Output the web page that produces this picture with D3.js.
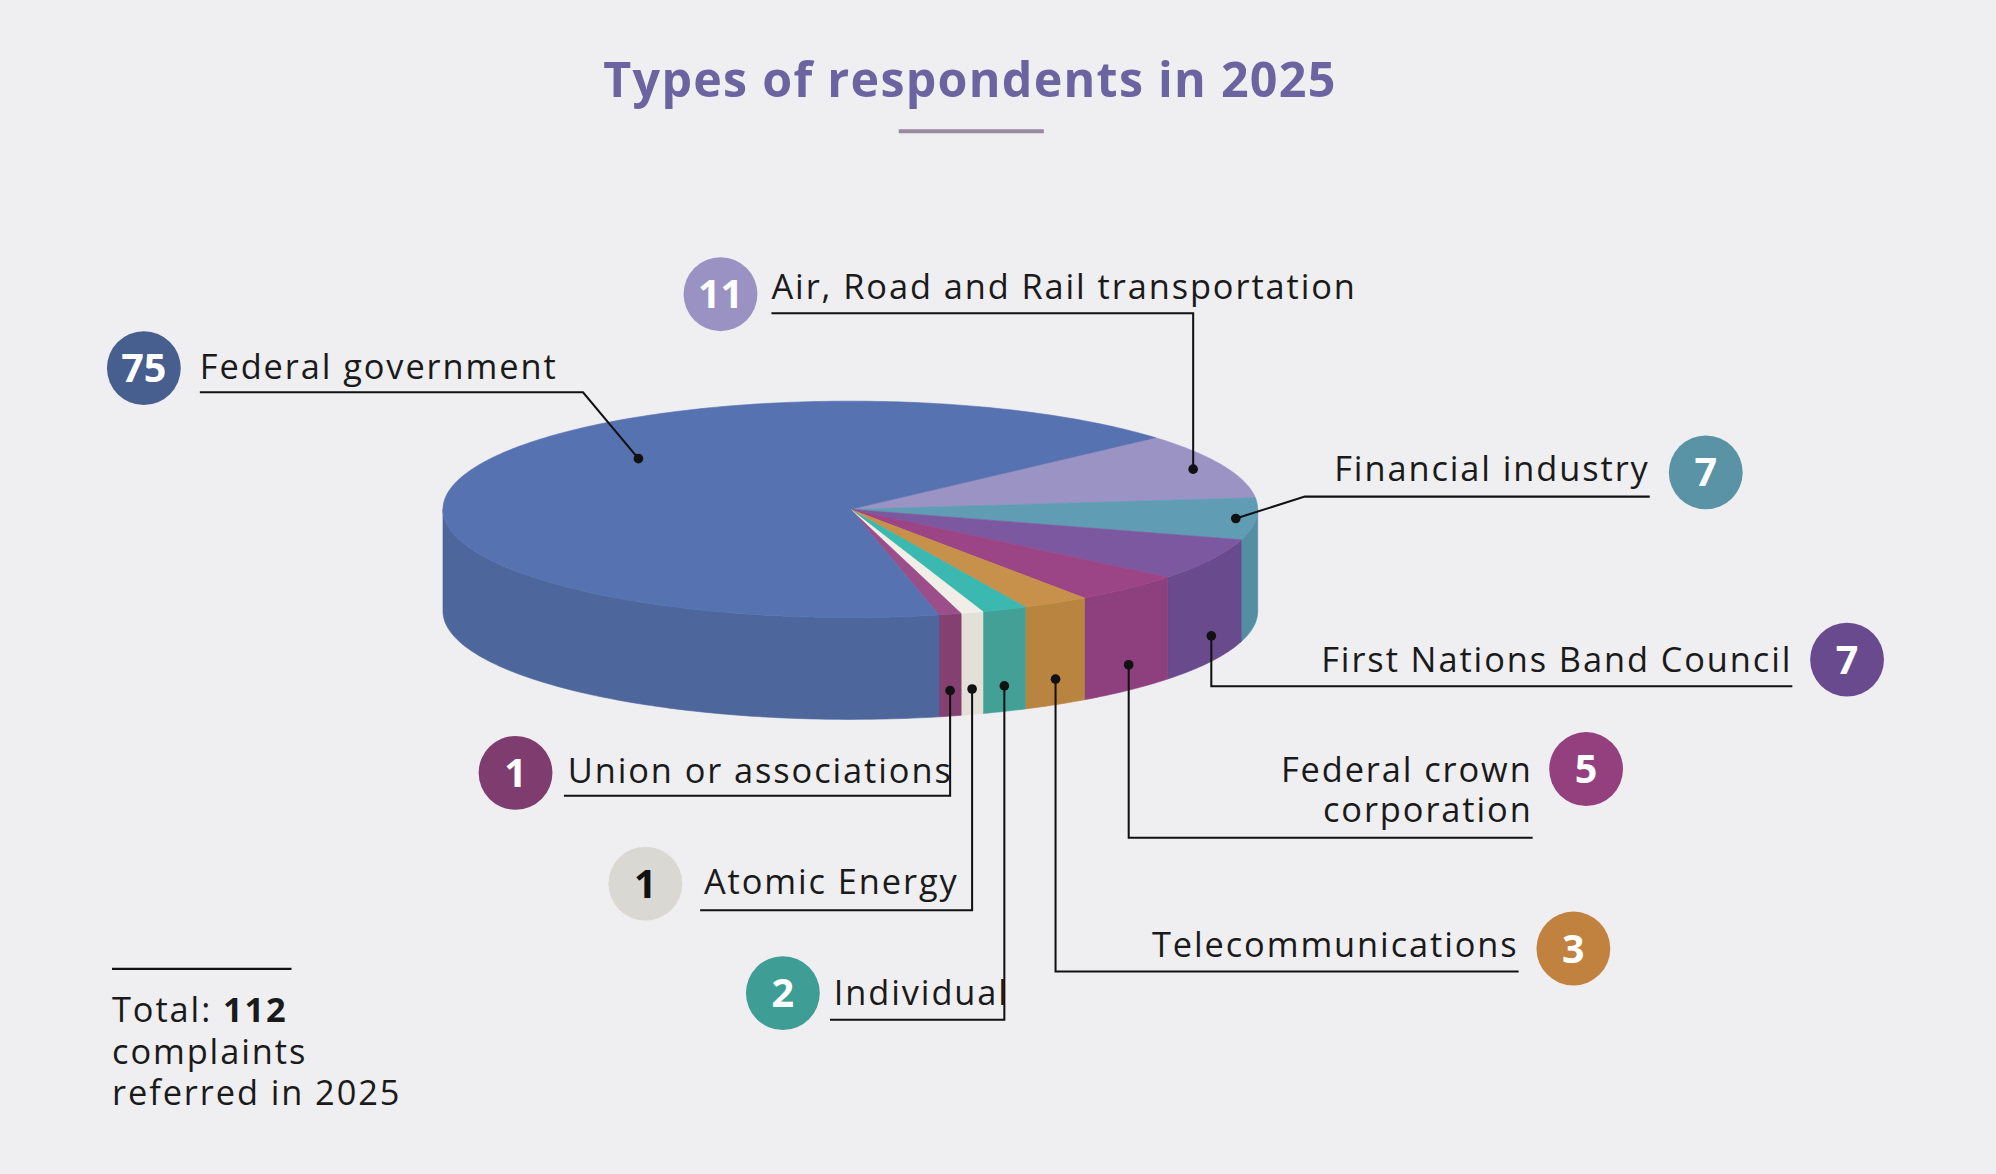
<!DOCTYPE html>
<html><head><meta charset="utf-8">
<script src="https://cdn.jsdelivr.net/npm/d3@7"></script>
<style>body{margin:0;background:#efeef1;}svg{display:block;}</style>
</head><body>
<svg id="chart" width="1996" height="1174" viewBox="0 0 1568 922"></svg>
<script>
// data, in drawing order (clockwise from the top right)
var categories = ["Air, Road and Rail transportation","Financial industry","First Nations Band Council","Federal crown corporation","Telecommunications","Individual","Atomic Energy","Union or associations","Federal government"];
var values = [11,7,7,5,3,2,1,1,75];
var totalLabel = 112;

var topColors  = ["#9a93c3","#609db4","#7b589f","#9b4486","#c8914b","#3bb8b0","#f1eee8","#9b4e8a","#5672b0"];
var sideColors = ["#8c84b5","#548ea3","#694a8d","#8e3f7e","#b9843f","#43a097","#e4e0d8","#844070","#4d679c"];
var badgeColors= ["#9b92c4","#5b93a6","#6a4a8e","#94407f","#c0823e","#3e9d94","#d9d8d2","#7f3c6f","#475f8f"];

var svg = d3.select("#chart");
var cx = 668, cy = 400, rx = 320, ry = 85, depth = 80;
var font = "'Open Sans', sans-serif";
var ls = 1.5;

var total = d3.sum(values);
var t0 = 318.5*Math.PI/180;
var angle = d3.scaleLinear().domain([0,total]).range([t0, t0+2*Math.PI]);
var cum = d3.cumsum(values);
var slices = values.map(function(v,i){
  return {i:i, a0: angle(cum[i]-v), a1: angle(cum[i])};
});

function pt(t, f, dy){ return [cx+rx*f*Math.cos(t), cy+ry*f*Math.sin(t)+(dy||0)]; }
function arcPts(a0,a1,dy){
  var n = Math.max(4, Math.ceil((a1-a0)*60)), out=[];
  for(var k=0;k<=n;k++){ out.push(pt(a0+(a1-a0)*k/n,1,dy)); }
  return out;
}
var line = d3.line();

// side walls: visible where sin(t) > 0
var sides = [];
slices.forEach(function(s){
  [0, 2*Math.PI, 4*Math.PI].forEach(function(off){
    var lo = Math.max(s.a0, off), hi = Math.min(s.a1, off+Math.PI);
    if(hi>lo) sides.push({i:s.i, lo:lo, hi:hi});
  });
});
svg.selectAll("path.side").data(sides).enter().append("path")
  .attr("class","side")
  .attr("d", function(d){
    var p = arcPts(d.lo,d.hi,0).concat(arcPts(d.lo,d.hi,depth).reverse());
    return line(p)+"Z";
  })
  .attr("fill", function(d){ return sideColors[d.i]; })
  .attr("stroke", function(d){ return sideColors[d.i]; }).attr("stroke-width",0.5);

svg.selectAll("path.top").data(slices).enter().append("path")
  .attr("class","top")
  .attr("d", function(d){ return line([[cx,cy]].concat(arcPts(d.a0,d.a1,0)))+"Z"; })
  .attr("fill", function(d){ return topColors[d.i]; })
  .attr("stroke", function(d){ return topColors[d.i]; }).attr("stroke-width",0.5);

// label layout (positions only)
var layout = [
  {badge:[566,231], text:[606,235], anchor:"start", ux:[606,929], uy:246, f:0.92, side:false},
  {badge:[1340,371], text:[1296,378], anchor:"end", ux:[1025,1296], uy:390, f:0.95, side:false},
  {badge:[1451,518], text:[1408,528], anchor:"end", ux:[963,1408], uy:539, side:true},
  {badge:[1246,604], text:[1204,614], anchor:"end", ux:[909,1204], uy:658, side:true, lines:["Federal crown","corporation"]},
  {badge:[1236,745], text:[1193,752], anchor:"end", ux:[856,1193], uy:763, side:true},
  {badge:[615,780], text:[655,789], anchor:"start", ux:[652,818], uy:801, side:true},
  {badge:[507,694], text:[553,702], anchor:"start", ux:[550,795], uy:715, side:true},
  {badge:[405,607], text:[446,615], anchor:"start", ux:[443,778], uy:625, side:true},
  {badge:[113,289], text:[157,298], anchor:"start", ux:[157,458], uy:308, f:0.7, t:222, side:false}
];

slices.forEach(function(s){
  var L = layout[s.i], mid = (s.a0+s.a1)/2, dot, pts;
  if(L.side){
    dot = pt(mid,1,depth*0.75);
    pts = [[L.anchor==="end"?L.ux[1]:L.ux[0], L.uy],[dot[0],L.uy],dot];
  } else {
    dot = pt(L.t!=null ? L.t*Math.PI/180 : mid, L.f, 0);
    if(L.anchor==="end") pts = [[L.ux[1],L.uy],[L.ux[0],L.uy],dot];
    else if(s.i===0) pts = [[L.ux[0],L.uy],[dot[0],L.uy],dot];
    else pts = [[L.ux[0],L.uy],[L.ux[1],L.uy],dot];
  }
  svg.append("path").attr("d", line(pts)).attr("fill","none").attr("stroke","#111").attr("stroke-width",1.6);
  svg.append("circle").attr("cx",dot[0]).attr("cy",dot[1]).attr("r",3.8).attr("fill","#111");

  svg.append("circle").attr("cx",L.badge[0]).attr("cy",L.badge[1]).attr("r",29).attr("fill",badgeColors[s.i]);
  svg.append("text").attr("x",L.badge[0]).attr("y",L.badge[1]+11)
    .attr("text-anchor","middle").attr("font-family",font).attr("font-weight",700).attr("font-size",31)
    .attr("fill", s.i===6 ? "#111" : "#fff").text(values[s.i]);

  var lines = L.lines ? L.lines : [categories[s.i]];
  lines.forEach(function(tx,k){
    svg.append("text").attr("x",L.text[0]).attr("y",L.text[1]+k*32)
      .attr("text-anchor",L.anchor).attr("font-family",font).attr("font-size",27)
      .attr("letter-spacing",ls).attr("fill","#1a1a1a").text(tx);
  });
});

// title
svg.append("text").attr("x",762).attr("y",76).attr("text-anchor","middle")
  .attr("font-family",font).attr("font-weight",700).attr("font-size",38).attr("letter-spacing",1)
  .attr("fill","#6b64a0").text("Types of respondents in 2025");
svg.append("line").attr("x1",706).attr("x2",820).attr("y1",103).attr("y2",103)
  .attr("stroke","#9a8aa0").attr("stroke-width",3);

// total note
svg.append("line").attr("x1",88).attr("x2",229).attr("y1",761).attr("y2",761).attr("stroke","#111").attr("stroke-width",1.6);
var tt = svg.append("text").attr("x",88).attr("y",803).attr("font-family",font).attr("font-size",27).attr("letter-spacing",ls).attr("fill","#1a1a1a");
tt.append("tspan").text("Total: ");
tt.append("tspan").attr("font-weight",700).text(totalLabel);
svg.append("text").attr("x",88).attr("y",836).attr("font-family",font).attr("font-size",27).attr("letter-spacing",ls).attr("fill","#1a1a1a").text("complaints");
svg.append("text").attr("x",88).attr("y",868).attr("font-family",font).attr("font-size",27).attr("letter-spacing",ls).attr("fill","#1a1a1a").text("referred in 2025");
</script>
</body></html>
